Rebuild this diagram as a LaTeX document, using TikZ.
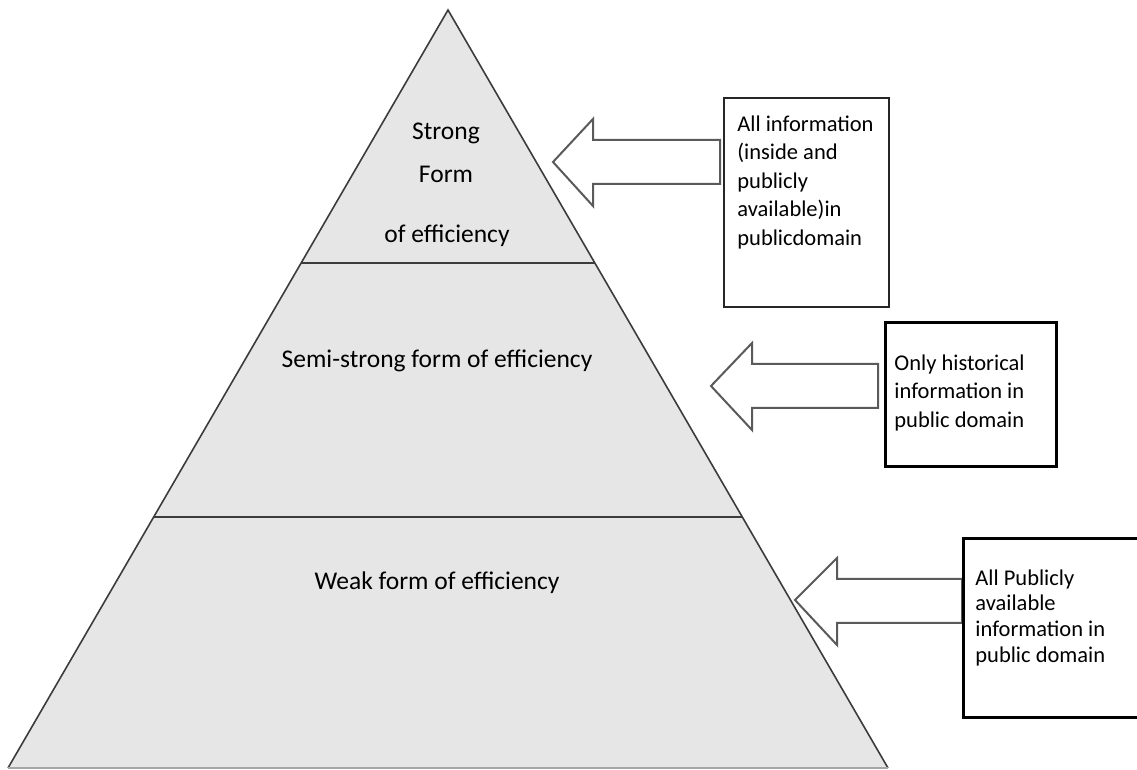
\documentclass[tikz,border=0pt]{standalone}
\usepackage{fontspec}
\setmainfont{Carlito}
\usetikzlibrary{calc}
\definecolor{pyrfill}{HTML}{E6E6E6}
\definecolor{pyrline}{HTML}{3C3C3C}
\definecolor{arrline}{HTML}{5A5A5A}

\begin{document}
\begin{tikzpicture}[x=0.5pt,y=-0.5pt,
  layer/.style={font=\fontsize{12.75}{15.5}\selectfont, anchor=base},
  infobox/.style={draw=black, line width=1.5pt},
  infotext/.style={font=\fontsize{11.25}{14.25}\selectfont, align=left, anchor=north west, inner sep=0pt},
  blockarrow/.style={draw=arrline, fill=white, line width=1pt, line join=miter}]
  \useasboundingbox (0,0) rectangle (1137,770);
  % pyramid
  \coordinate (apex) at (448,10);
  \coordinate (bl) at (8,768);
  \coordinate (br) at (888,768);
  \fill[pyrfill] (apex) -- (bl) -- (br) -- cycle;
  \draw[pyrline, line width=0.8pt] (bl) -- (apex) -- (br);
  \draw[gray!70, line width=0.8pt] (bl) -- (br);
  \draw[pyrline, line width=0.8pt] ($(apex)!0.334!(bl)$) -- ($(apex)!0.334!(br)$);
  \draw[pyrline, line width=0.8pt] ($(apex)!0.669!(bl)$) -- ($(apex)!0.669!(br)$);
  % levels
  \node[layer] (strong) at (446,140) {Strong};
  \node[layer] (form) at (446,183) {Form};
  \node[layer] (ofeff) at (447,243) {of efficiency};
  \node[layer] (semi) at (437,368) {Semi-strong form of efficiency};
  \node[layer] (weak) at (437,589) {Weak form of efficiency};
  % arrows
  \draw[blockarrow] (553,162) -- (593,119) -- (593,140) -- (720,140) -- (720,184) -- (593,184) -- (593,206) -- cycle;
  \draw[blockarrow] (711,386) -- (752,343) -- (752,364) -- (878,364) -- (878,408) -- (752,408) -- (752,430) -- cycle;
  \draw[blockarrow] (795,600) -- (837,558) -- (837,579) -- (962,579) -- (962,623) -- (837,623) -- (837,645) -- cycle;
  % information boxes
  \draw[infobox, line width=1.1pt, draw=black!85] (724,98) rectangle (889,307);
  \node[infotext] (info1) at (737,115) {All information\\(inside and\\publicly\\available)in\\publicdomain};
  \draw[infobox] (885,323) rectangle (1056,467);
  \node[infotext] (info2) at (894,354) {Only historical\\information in\\public domain};
  \draw[infobox] (963,539) rectangle (1142,717);
  \node[infotext, font=\fontsize{11.25}{12.85}\selectfont] (info3) at (975,569) {All Publicly\\available\\information in\\public domain};
\end{tikzpicture}
\end{document}
